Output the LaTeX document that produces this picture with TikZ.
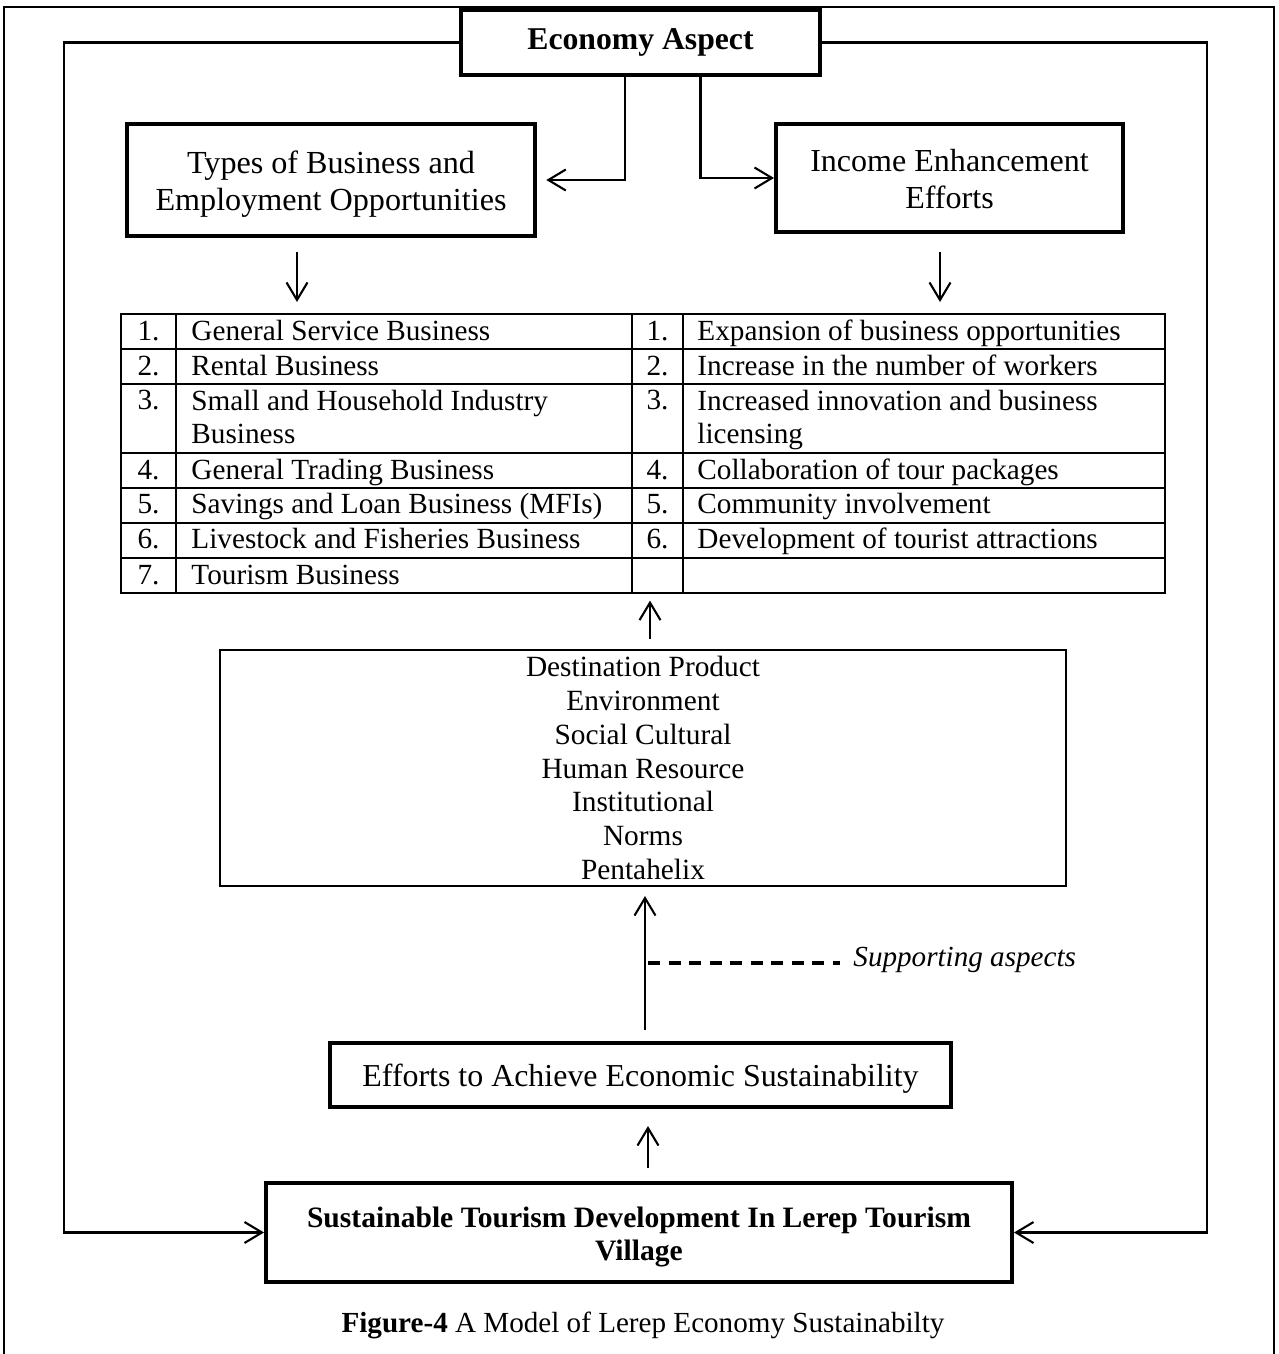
\documentclass[tikz,border=0pt]{standalone}
\usepackage{fontspec}
\setmainfont{Liberation Serif}
\usetikzlibrary{arrows.meta}

\newcommand{\pu}{0.4292pt}

\begin{document}
\begin{tikzpicture}[
  x=0.4292pt, y=-0.4292pt,
  >={Straight Barb[length=7.5pt,width=9pt]},
  boldbox/.style={draw,line width=1.7pt,align=center,inner sep=0pt},
  thinbox/.style={draw,line width=0.8pt,align=center,inner sep=0pt},
  link/.style={line width=0.9pt},
  grid/.style={line width=0.8pt},
  cell/.style={anchor=base west,align=left,inner sep=0pt,font=\fontsize{12.55}{14.2}\selectfont},
  num/.style={anchor=base,inner sep=0pt,font=\fontsize{12.55}{14.2}\selectfont}
]
\useasboundingbox (0,0) rectangle (1279,1354);

% outer frame, open at the bottom
\draw[grid] (4,1354) -- (4,7) -- (1274,7) -- (1274,1354);

% boxes
\node[boldbox, minimum width=359*\pu, minimum height=65*\pu, text height=6.4pt, text depth=0pt,
  font=\fontsize{13.6}{16}\selectfont\bfseries] (eco) at (640.5,42.5) {Economy Aspect};
\node[boldbox, minimum width=408*\pu, minimum height=112*\pu, text height=25.8pt, text depth=0pt,
  font=\fontsize{13.8}{15.9}\selectfont] (types) at (331,180)
  {Types of Business and\\Employment Opportunities};
\node[boldbox, minimum width=347*\pu, minimum height=108*\pu, text height=25.8pt, text depth=0pt,
  font=\fontsize{13.75}{15.9}\selectfont] (income) at (949.5,178)
  {Income Enhancement\\Efforts};
\node[thinbox, minimum width=1044*\pu, minimum height=278.7*\pu] (tab) at (643,453.35) {};
\node[thinbox, minimum width=846*\pu, minimum height=236*\pu,
  font=\fontsize{12.6}{14.5}\selectfont] (dest) at (643,768)
  {Destination Product\\Environment\\Social Cultural\\Human Resource\\Institutional\\Norms\\Pentahelix};
\node[boldbox, minimum width=621*\pu, minimum height=64*\pu, text height=9.8pt, text depth=0pt,
  font=\fontsize{13.7}{16}\selectfont] (eff) at (640.5,1075)
  {Efforts to Achieve Economic Sustainability};
\node[boldbox, minimum width=746*\pu, minimum height=99*\pu, text height=24.4pt, text depth=0pt,
  font=\fontsize{12.7}{14.2}\selectfont\bfseries] (sust) at (639,1232.5)
  {Sustainable Tourism Development In Lerep Tourism\\Village};
\node[anchor=west, inner sep=0pt, font=\fontsize{12.5}{15}\selectfont\itshape] (sup) at (853,960)
  {Supporting aspects};
\node[inner sep=0pt, font=\fontsize{12.5}{15}\selectfont] (cap) at (643,1325)
  {\textbf{Figure-4} A Model of Lerep Economy Sustainabilty};

% table grid
\foreach \y in {349.3,384,453.3,488.3,523.3,557.7}
  \draw[grid] (121,\y) -- (1165,\y);
\foreach \x in {176,632,683}
  \draw[grid] (\x,314) -- (\x,592.7);

% left column (text base = last line)
\foreach \n/\y/\ty/\t in {1/341/341/General Service Business,
    2/376/376/Rental Business,
    3/410/444/{Small and Household Industry\\Business},
    4/480/480/General Trading Business,
    5/514/514/Savings and Loan Business (MFIs),
    6/549/549/Livestock and Fisheries Business,
    7/584/584/Tourism Business}{
  \node[num] (bn\n) at (148.5,\y) {\n.};
  \node[cell] (bt\n) at (191,\ty) {\t};
}
% right column
\foreach \n/\y/\ty/\t in {1/341/341/Expansion of business opportunities,
    2/376/376/Increase in the number of workers,
    3/410/444/{Increased innovation and business\\licensing},
    4/480/480/Collaboration of tour packages,
    5/514/514/Community involvement,
    6/549/549/Development of tourist attractions}{
  \node[num] (in\n) at (657.5,\y) {\n.};
  \node[cell] (it\n) at (697,\ty) {\t};
}

% connectors
\coordinate (lc) at (64,1232.5);
\coordinate (rc) at (1207,1232.5);
\coordinate (sp) at (648,963);
\draw[link,->,shorten >=4pt] (eco.south) ++(-15.5,0) |- (types.east);
\draw[link,->] (eco.south) ++(60,0) |- (income.west);
\draw[link,->] ([xshift=-34*\pu,yshift=-14*\pu]types.south) -- ++(0,50);
\draw[link,->] ([xshift=-9.5*\pu,yshift=-18*\pu]income.south) -- ++(0,50);
\draw[link,->] ([xshift=7*\pu,yshift=10*\pu]dest.north) -- ([xshift=7*\pu,yshift=-7*\pu]tab.south);
\draw[link,->] ([xshift=4.5*\pu,yshift=11*\pu]eff.north) -- ++(0,-134);
\draw[line width=1.3pt,dash pattern=on 5.2pt off 3.6pt] (sp) -- ([xshift=-5.5pt]sup.west |- sp);
\draw[link,->] ([xshift=9*\pu,yshift=13*\pu]sust.north) -- ++(0,-42);
\draw[link,->] (eco.west) -| (lc) -- (sust.west);
\draw[link,->] (eco.east) -| (rc) -- (sust.east);
\end{tikzpicture}
\end{document}
